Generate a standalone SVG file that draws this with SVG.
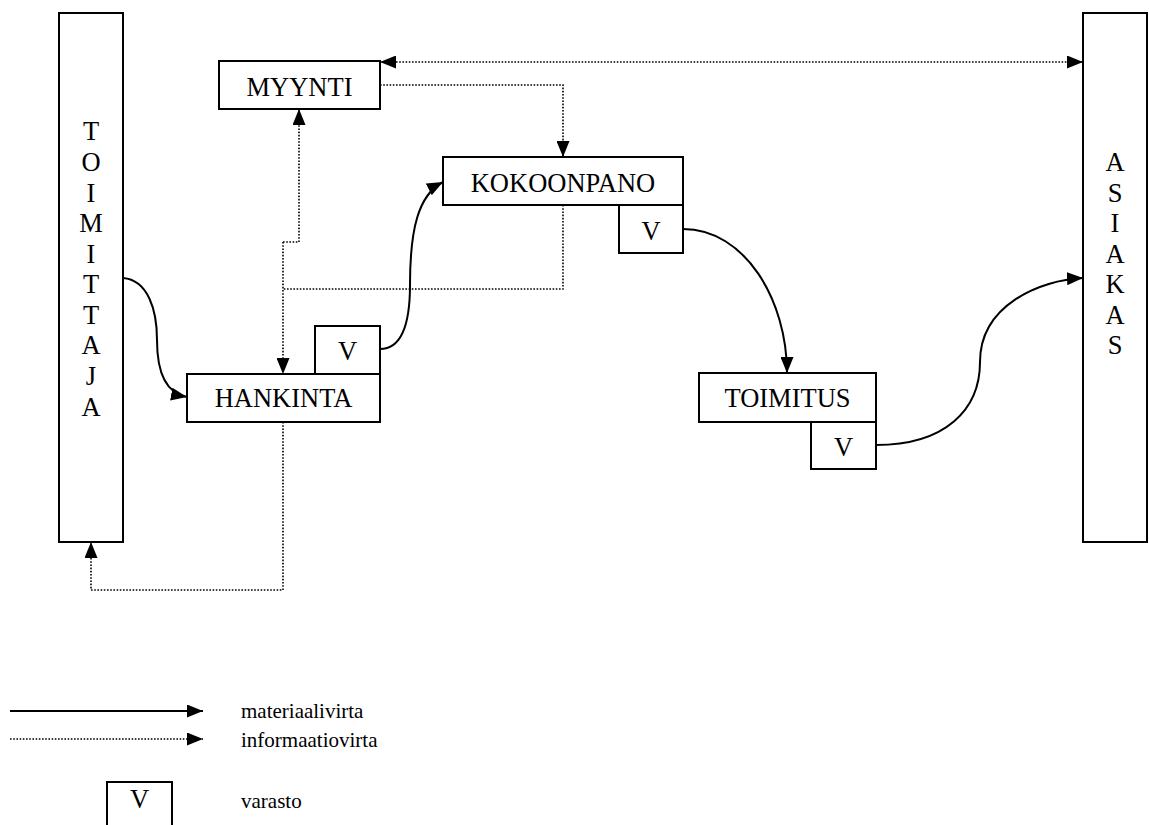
<svg xmlns="http://www.w3.org/2000/svg" width="1149" height="825" viewBox="0 0 1149 825">
<defs>
  <marker id="ah" markerUnits="userSpaceOnUse" markerWidth="16" markerHeight="13" refX="16" refY="6.5" orient="auto">
    <path d="M0,0 L16,6.5 L0,13 z" fill="#000"/>
  </marker>
  <marker id="ahs" markerUnits="userSpaceOnUse" markerWidth="16" markerHeight="13" refX="16" refY="6.5" orient="auto-start-reverse">
    <path d="M0,0 L16,6.5 L0,13 z" fill="#000"/>
  </marker>
</defs>
<rect width="1149" height="825" fill="#fff"/>

<g id="toimittaja" fill="#fff" stroke="#000" stroke-width="2">
  <rect x="59" y="13" width="64" height="529"/>
  <g fill="#000" stroke="none" text-anchor="middle">
  <text font-family="Liberation Serif" font-size="26.5" x="91" y="140">T</text>
  <text font-family="Liberation Serif" font-size="26.5" x="91" y="171">O</text>
  <text font-family="Liberation Serif" font-size="26.5" x="91" y="202">I</text>
  <text font-family="Liberation Serif" font-size="26.5" x="91" y="232">M</text>
  <text font-family="Liberation Serif" font-size="26.5" x="91" y="263">I</text>
  <text font-family="Liberation Serif" font-size="26.5" x="91" y="293">T</text>
  <text font-family="Liberation Serif" font-size="26.5" x="91" y="324">T</text>
  <text font-family="Liberation Serif" font-size="26.5" x="91" y="354">A</text>
  <text font-family="Liberation Serif" font-size="26.5" x="91" y="385">J</text>
  <text font-family="Liberation Serif" font-size="26.5" x="91" y="416">A</text>
  </g>
</g>

<g id="asiakas" fill="#fff" stroke="#000" stroke-width="2">
  <rect x="1083" y="13" width="64" height="529"/>
  <g fill="#000" stroke="none" text-anchor="middle">
  <text font-family="Liberation Serif" font-size="26.5" x="1115" y="171">A</text>
  <text font-family="Liberation Serif" font-size="26.5" x="1115" y="202">S</text>
  <text font-family="Liberation Serif" font-size="26.5" x="1115" y="232">I</text>
  <text font-family="Liberation Serif" font-size="26.5" x="1115" y="263">A</text>
  <text font-family="Liberation Serif" font-size="26.5" x="1115" y="293">K</text>
  <text font-family="Liberation Serif" font-size="26.5" x="1115" y="324">A</text>
  <text font-family="Liberation Serif" font-size="26.5" x="1115" y="354">S</text>
  </g>
</g>

<g id="myynti" fill="#fff" stroke="#000" stroke-width="2">
  <rect x="219" y="61" width="161" height="48"/>
  <text fill="#000" stroke="none" text-anchor="middle" font-family="Liberation Serif" font-size="26.5" x="299.5" y="96">MYYNTI</text>
</g>

<g id="kokoonpano" fill="#fff" stroke="#000" stroke-width="2">
  <rect x="443" y="157" width="240" height="48"/>
  <text fill="#000" stroke="none" text-anchor="middle" font-family="Liberation Serif" font-size="26.5" x="563" y="192">KOKOONPANO</text>
  <rect x="619" y="205" width="64" height="48"/>
  <text fill="#000" stroke="none" text-anchor="middle" font-family="Liberation Serif" font-size="26.5" x="651" y="240">V</text>
</g>

<g id="hankinta" fill="#fff" stroke="#000" stroke-width="2">
  <rect x="315" y="326" width="65" height="48"/>
  <text fill="#000" stroke="none" text-anchor="middle" font-family="Liberation Serif" font-size="26.5" x="347.5" y="360">V</text>
  <rect x="187" y="374" width="193" height="48"/>
  <text fill="#000" stroke="none" text-anchor="middle" font-family="Liberation Serif" font-size="26.5" x="283.5" y="407">HANKINTA</text>
</g>

<g id="toimitus" fill="#fff" stroke="#000" stroke-width="2">
  <rect x="699" y="373" width="177" height="49"/>
  <text fill="#000" stroke="none" text-anchor="middle" font-family="Liberation Serif" font-size="26.5" x="787.5" y="407">TOIMITUS</text>
  <rect x="811" y="422" width="65" height="47"/>
  <text fill="#000" stroke="none" text-anchor="middle" font-family="Liberation Serif" font-size="26.5" x="843.5" y="456">V</text>
</g>

<g id="connectors" fill="none" stroke="#000">
  <g stroke-width="2">
    <path d="M123,278 C148,280 157,310 157,340 C157,372 165,393 187,397" marker-end="url(#ah)"/>
    <path d="M380,349 C403,349 410,320 410,285 C410,230 418,195 443,182" marker-end="url(#ah)"/>
    <path d="M683,229 C745,229 787,300 787,373" marker-end="url(#ah)"/>
    <path d="M876,445 C945,445 980,410 980,362 C980,305 1040,280 1083,278" marker-end="url(#ah)"/>
  </g>
  <g stroke-width="1.6" stroke-dasharray="1.6 1.6">
    <path d="M380,62 L1083,62" marker-start="url(#ahs)" marker-end="url(#ahs)"/>
    <path d="M380,85 L563,85 L563,157" marker-end="url(#ah)"/>
    <path d="M563,205 L563,289 L283,289"/>
    <path d="M283,242 L299,242 L299,109" marker-end="url(#ah)"/>
    <path d="M283,242 L283,374" marker-end="url(#ah)"/>
    <path d="M283,422 L283,590 L91,590 L91,542" marker-end="url(#ah)"/>
  </g>
</g>

<g id="legend">
  <path d="M10,711 L203,711" fill="none" stroke="#000" stroke-width="2" marker-end="url(#ah)"/>
  <text fill="#000" font-family="Liberation Serif" font-size="21" x="241" y="718">materiaalivirta</text>
  <path d="M10,739 L203,739" fill="none" stroke="#000" stroke-width="1.6" stroke-dasharray="1.6 1.6" marker-end="url(#ah)"/>
  <text fill="#000" font-family="Liberation Serif" font-size="21" x="241" y="747">informaatiovirta</text>
  <rect x="107" y="782" width="65" height="50" fill="#fff" stroke="#000" stroke-width="2"/>
  <text fill="#000" text-anchor="middle" font-family="Liberation Serif" font-size="26.5" x="139.5" y="808">V</text>
  <text fill="#000" font-family="Liberation Serif" font-size="21" x="241" y="808">varasto</text>
</g>
</svg>
